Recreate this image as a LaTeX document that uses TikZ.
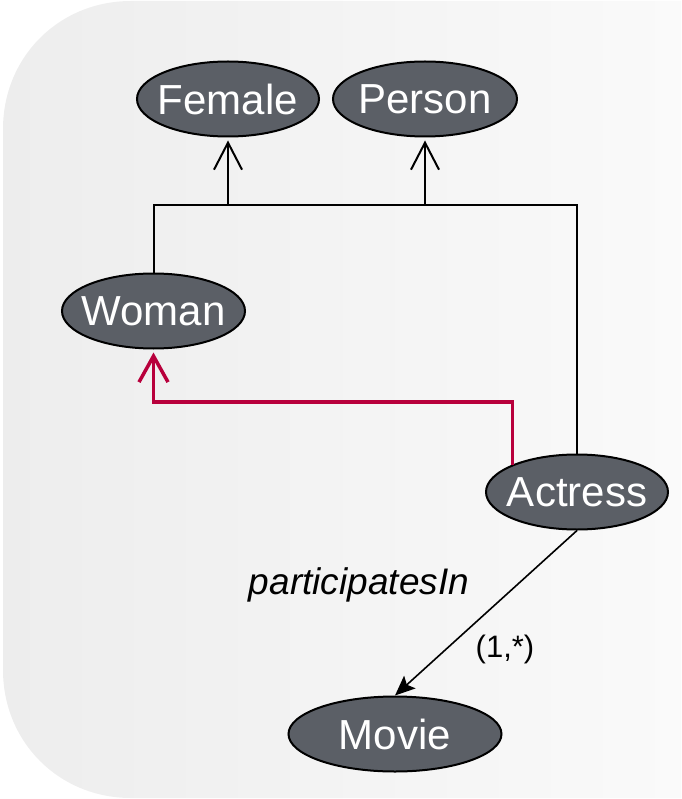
\documentclass[tikz,border=0pt]{standalone}
\usepackage{fontspec}
\setmainfont{Liberation Sans}
\usetikzlibrary{shapes.geometric,arrows.meta}
\definecolor{nodefill}{RGB}{91,95,102}
\definecolor{subred}{RGB}{184,0,60}
\definecolor{panelL}{RGB}{237,237,237}
\definecolor{panelR}{RGB}{250,250,250}
% zero-width label so the ellipse size is set by minimum width/height alone
\newcommand{\cname}[1]{\makebox[0pt]{#1}}

\begin{document}
\begin{tikzpicture}[x=1pt,y=-1pt,
  concept/.style={ellipse, draw=black, line width=2pt, fill=nodefill,
    text=white, minimum width=182pt, minimum height=75pt, inner sep=0pt,
    font=\fontsize{42}{50}\selectfont},
  isa/.style={line width=2pt, -{Straight Barb[length=27pt,width=28pt]},
    shorten >=3pt},
  isared/.style={draw=subred, line width=3.5pt,
    -{Straight Barb[length=26pt,width=29pt]}, shorten >=3pt},
  role/.style={line width=1.6pt, -{Stealth[length=20pt,width=17pt,inset=4pt]}},
  rolelabel/.style={inner sep=0pt, font=\fontsize{37}{44}\selectfont},
  cardlabel/.style={inner sep=0pt, font=\fontsize{31}{37}\selectfont}
]
\useasboundingbox (0,0) rectangle (681,799);

% rounded panel behind the diagram
\shade[left color=panelL, right color=panelR]
  (681,1) -- (131,1) .. controls (59,1) and (3,57) .. (3,129)
  -- (3,670) .. controls (3,742) and (59,798) .. (131,798)
  -- (681,798) -- cycle;

% concepts
\node[concept] (female)  at (228,99)  {\cname{Female}};
\node[concept, minimum width=184pt] (person) at (425,99) {\cname{Person}};
\node[concept, minimum width=183pt] (woman) at (153.5,311) {\cname{Woman}};
\node[concept] (actress) at (577,492) {\cname{Actress}};
\node[concept, minimum width=213pt] (movie) at (395,734) {\cname{Movie}};

% shared subsumption bar
\coordinate (bar) at (0,205);
\draw[line width=2pt] (woman.north) |- (bar -| actress.north) -- (actress.north);
\draw[isa] (bar -| female.south) -- (female.south);
\draw[isa] (bar -| person.south) -- (person.south);

% highlighted subsumption Actress -> Woman
\coordinate (redturn) at (0,402);
\draw[isared] (actress.157) |- (redturn -| woman.south) -- (woman.south);

% role
\draw[role] (actress.south) -- (movie.north);
\node[rolelabel] (rname) at (359,585) {\itshape participatesIn};
\node[cardlabel] (card) at (505,649) {(1,*)};
\end{tikzpicture}
\end{document}
